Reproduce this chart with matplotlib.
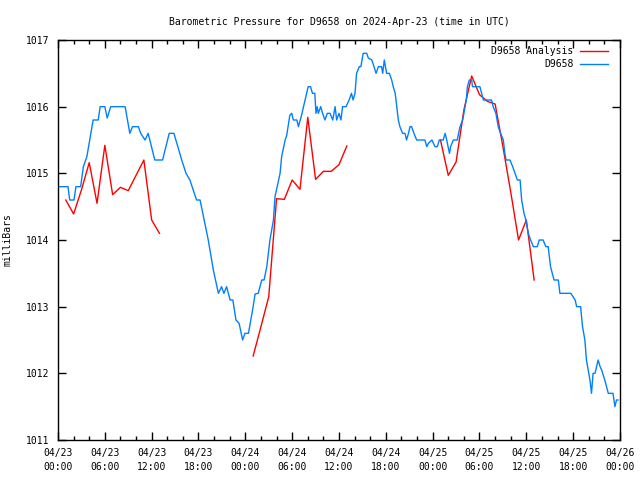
import matplotlib
matplotlib.use('Agg')
import matplotlib.pyplot as plt
import matplotlib.dates as mdates
import numpy as np
from datetime import datetime, timedelta

START = datetime(2024, 4, 23)

# observed station pressure (hours after 04/23 00:00 UTC, mb)
obs_hours = [0.0, 1.28, 1.5, 2.05, 2.3, 2.9, 3.25, 3.7, 4.5, 5.15, 5.4, 6.0, 6.3, 6.75,
             8.6, 9.2, 9.55, 10.3, 10.6, 11.15, 11.55, 12.4, 13.4, 14.25, 14.85, 15.85,
             16.4, 16.9, 17.75, 18.2, 19.25, 19.9, 20.55, 20.95, 21.25, 21.6, 22.05, 22.4,
             22.8, 23.2, 23.65, 23.95, 24.4, 25.0, 25.25, 25.65, 26.1, 26.4, 26.75, 27.15,
             27.6, 27.8, 28.45, 28.65, 29.1, 29.3, 29.7, 29.95, 30.15, 30.6, 30.8, 31.2,
             31.65, 31.85, 32.05, 32.35, 32.6, 32.9, 33.05, 33.2, 33.35, 33.65, 33.9, 34.2,
             34.5, 34.85, 35.2, 35.5, 35.7, 36.0, 36.25, 36.45, 36.9, 37.3, 37.6, 37.8,
             38.05, 38.25, 38.6, 38.8, 39.1, 39.55, 39.75, 40.2, 40.4, 40.75, 41.05, 41.45,
             41.6, 41.8, 42.1, 42.45, 42.75, 42.95, 43.2, 43.4, 43.6, 43.8, 44.15, 44.45,
             44.65, 44.9, 45.1, 45.3, 45.6, 45.95, 47.0, 47.25, 47.45, 47.9, 48.3, 48.6,
             48.85, 49.35, 49.6, 49.8, 50.15, 50.3, 50.65, 51.15, 51.5, 51.85, 52.0, 52.3,
             52.45, 52.7, 53.0, 53.1, 54.05, 54.5, 55.55, 55.75, 56.1, 56.4, 56.7, 57.05,
             57.25, 57.4, 57.9, 58.25, 58.55, 58.85, 59.2, 59.4, 59.7, 59.95, 60.25, 60.55,
             60.9, 61.4, 61.65, 62.15, 62.5, 62.8, 63.1, 63.55, 64.1, 64.3, 65.7, 66.25,
             66.45, 66.95, 67.2, 67.5, 67.7, 68.15, 68.35, 68.55, 68.8, 69.2, 69.45, 69.65,
             70.05, 70.5, 71.1, 71.35, 71.55, 71.75]
obs_mb = [1014.8, 1014.8, 1014.6, 1014.6, 1014.8, 1014.8, 1015.1, 1015.25, 1015.8, 1015.8,
          1016.0, 1016.0, 1015.83, 1016.0, 1016.0, 1015.6, 1015.7, 1015.7, 1015.6, 1015.5,
          1015.6, 1015.2, 1015.2, 1015.6, 1015.6, 1015.2, 1015.0, 1014.9, 1014.6, 1014.6,
          1014.0, 1013.55, 1013.2, 1013.3, 1013.2, 1013.3, 1013.1, 1013.1, 1012.8, 1012.75,
          1012.5, 1012.6, 1012.6, 1013.0, 1013.19, 1013.2, 1013.4, 1013.4, 1013.6, 1014.0,
          1014.3, 1014.65, 1015.0, 1015.25, 1015.5, 1015.57, 1015.87, 1015.9, 1015.8, 1015.8,
          1015.7, 1015.87, 1016.1, 1016.2, 1016.3, 1016.3, 1016.2, 1016.2, 1015.9, 1016.0,
          1015.9, 1016.0, 1015.9, 1015.8, 1015.9, 1015.9, 1015.8, 1016.0, 1015.8, 1015.9,
          1015.8, 1016.0, 1016.0, 1016.1, 1016.2, 1016.1, 1016.2, 1016.5, 1016.6, 1016.6,
          1016.8, 1016.8, 1016.73, 1016.7, 1016.63, 1016.5, 1016.6, 1016.6, 1016.5, 1016.7,
          1016.5, 1016.5, 1016.4, 1016.3, 1016.2, 1016.0, 1015.8, 1015.7, 1015.6, 1015.6,
          1015.5, 1015.6, 1015.7, 1015.7, 1015.6, 1015.5, 1015.5, 1015.4, 1015.45, 1015.5,
          1015.4, 1015.4, 1015.5, 1015.5, 1015.6, 1015.5, 1015.3, 1015.4, 1015.5, 1015.5,
          1015.7, 1015.8, 1015.9, 1016.1, 1016.3, 1016.4, 1016.4, 1016.3, 1016.3, 1016.1,
          1016.1, 1016.0, 1015.9, 1015.7, 1015.6, 1015.5, 1015.3, 1015.2, 1015.2, 1015.1,
          1015.0, 1014.9, 1014.9, 1014.6, 1014.4, 1014.3, 1014.1, 1014.0, 1013.9, 1013.9,
          1014.0, 1014.0, 1013.9, 1013.9, 1013.6, 1013.4, 1013.4, 1013.2, 1013.2, 1013.1,
          1013.0, 1013.0, 1012.7, 1012.5, 1012.2, 1011.9, 1011.7, 1012.0, 1012.0, 1012.2,
          1012.1, 1012.05, 1011.9, 1011.7, 1011.7, 1011.5, 1011.6, 1011.6]

# analysis values, hourly, nan marks the gaps between runs
ana_hours = [1, 2, 3, 4, 5, 6, 7, 8, 9, 10, 11, 12, 13,
             19,
             25, 26, 27, 28, 29, 30, 31, 32, 33, 34, 35, 36, 37,
             43,
             49, 50, 51, 52, 53, 54, 55, 56, 57, 58, 59, 60, 61]
ana_mb = [1014.6, 1014.39, 1014.75, 1015.16, 1014.55, 1015.42, 1014.68, 1014.79, 1014.74,
          1014.97, 1015.2, 1014.3, 1014.1,
          np.nan,
          1012.26, 1012.7, 1013.15, 1014.62, 1014.61, 1014.9, 1014.76, 1015.84, 1014.91,
          1015.03, 1015.03, 1015.13, 1015.41,
          np.nan,
          1015.5, 1014.97, 1015.17, 1015.95, 1016.46, 1016.18, 1016.08, 1016.04, 1015.4,
          1014.72, 1014.0, 1014.3, 1013.4]

plt.rcParams['font.family'] = 'DejaVu Sans Mono'
plt.rcParams['font.size'] = 7

fig = plt.figure(figsize=(6.4, 4.8), dpi=100)
ax = fig.add_axes([58 / 640, 40 / 480, 562 / 640, 400 / 480])

t_obs = [START + timedelta(hours=h) for h in obs_hours]
t_ana = [START + timedelta(hours=h) for h in ana_hours]

ax.plot(t_ana, ana_mb, color='#ff0000', lw=1, label='D9658 Analysis')
ax.plot(t_obs, obs_mb, color='#0080ff', lw=1, label='D9658')

ax.set_xlim(START, START + timedelta(hours=72))
ax.set_ylim(1011, 1017)
ax.set_yticks(range(1011, 1018))

ax.xaxis.set_major_locator(mdates.HourLocator(byhour=[0, 6, 12, 18]))
ax.xaxis.set_minor_locator(mdates.HourLocator(byhour=range(0, 24, 2)))
ax.xaxis.set_major_formatter(mdates.DateFormatter('%m/%d\n%H:%M'))

ax.tick_params(which='both', direction='in', top=True, right=True, width=1)
ax.tick_params(which='major', length=6, pad=6)
ax.tick_params(which='minor', length=3)
ax.tick_params(axis='x', pad=6)
plt.setp(ax.get_xticklabels(), linespacing=1.5)
for sp in ax.spines.values():
    sp.set_linewidth(1)

ax.set_title('Barometric Pressure for D9658 on 2024-Apr-23 (time in UTC)', fontsize=7, pad=11)
ax.set_ylabel('milliBars', labelpad=10)

# legend sits just inside the top right corner, no frame
leg = ax.legend(loc='upper right', bbox_to_anchor=(1 - 7 / 562, 1 - 1 / 400), frameon=False,
                markerfirst=False, handlelength=2.8, borderaxespad=0.15,
                labelspacing=0.3, handletextpad=0.7)

fig.savefig('out.png', dpi=100)
